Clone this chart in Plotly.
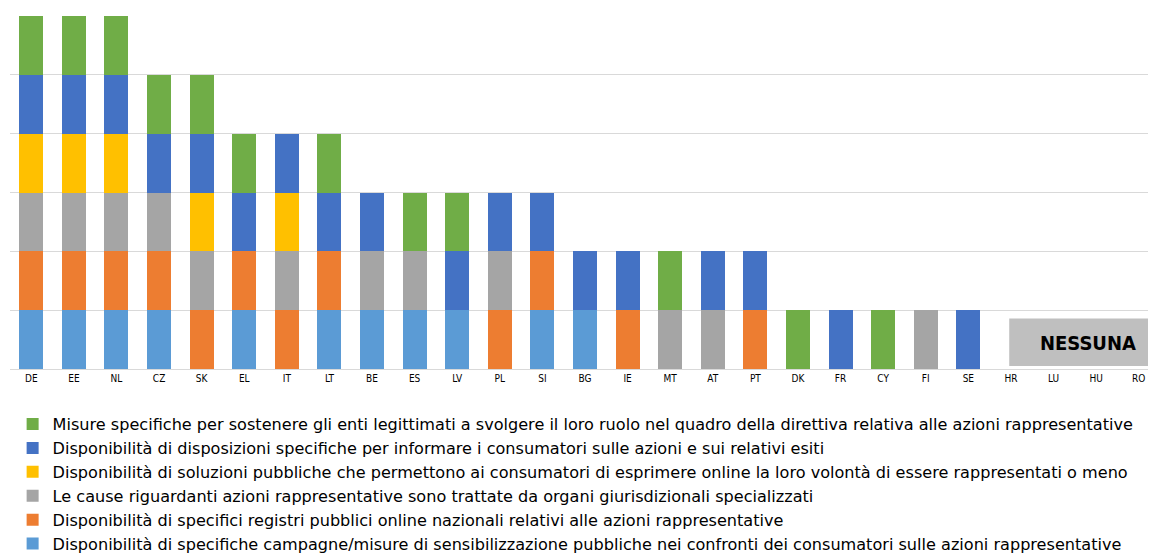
import plotly.graph_objects as go

paesi = ['DE', 'EE', 'NL', 'CZ', 'SK', 'EL', 'IT', 'LT', 'BE', 'ES', 'LV', 'PL', 'SI', 'BG',
         'IE', 'MT', 'AT', 'PT', 'DK', 'FR', 'CY', 'FI', 'SE', 'HR', 'LU', 'HU', 'RO']

# one 0/1 value per country, stacked bottom -> top
campagne = [1, 1, 1, 1, 0, 1, 0, 1, 1, 1, 1, 0, 1, 1, 0, 0, 0, 0, 0, 0, 0, 0, 0, 0, 0, 0, 0]
registri = [1, 1, 1, 1, 1, 1, 1, 1, 0, 0, 0, 1, 1, 0, 1, 0, 0, 1, 0, 0, 0, 0, 0, 0, 0, 0, 0]
organi = [1, 1, 1, 1, 1, 0, 1, 0, 1, 1, 0, 1, 0, 0, 0, 1, 1, 0, 0, 0, 0, 1, 0, 0, 0, 0, 0]
soluzioni = [1, 1, 1, 0, 1, 0, 1, 0, 0, 0, 0, 0, 0, 0, 0, 0, 0, 0, 0, 0, 0, 0, 0, 0, 0, 0, 0]
informare = [1, 1, 1, 1, 1, 1, 1, 1, 1, 0, 1, 1, 1, 1, 1, 0, 1, 1, 0, 1, 0, 0, 1, 0, 0, 0, 0]
misure = [1, 1, 1, 1, 1, 1, 0, 1, 0, 1, 1, 0, 0, 0, 0, 1, 0, 0, 1, 0, 1, 0, 0, 0, 0, 0, 0]

serie = [
    ('Disponibilità di specifiche campagne/misure di sensibilizzazione pubbliche nei confronti dei consumatori sulle azioni rappresentative', campagne, '#5B9BD5'),
    ('Disponibilità di specifici registri pubblici online nazionali relativi alle azioni rappresentative', registri, '#ED7D31'),
    ('Le cause riguardanti azioni rappresentative sono trattate da organi giurisdizionali specializzati', organi, '#A5A5A5'),
    ('Disponibilità di soluzioni pubbliche che permettono ai consumatori di esprimere online la loro volontà di essere rappresentati o meno', soluzioni, '#FFC000'),
    ('Disponibilità di disposizioni specifiche per informare i consumatori sulle azioni e sui relativi esiti', informare, '#4472C4'),
    ('Misure specifiche per sostenere gli enti legittimati a svolgere il loro ruolo nel quadro della direttiva relativa alle azioni rappresentative', misure, '#70AD47'),
]

fig = go.Figure()
for nome, valori, colore in serie:
    fig.add_trace(go.Bar(x=paesi, y=valori, name=nome, marker_color=colore,
                         marker_line_width=0))

font = 'DejaVu Sans Condensed, DejaVu Sans, sans-serif'

# "NESSUNA" box over the last four countries
fig.add_shape(type='rect', xref='x', yref='y', x0=22.96, x1=27, y0=0.05, y1=0.86,
              fillcolor='#BFBFBF', line_width=0, layer='above')
fig.add_annotation(x=24.81, y=0.44, xref='x', yref='y', text='<b>NESSUNA</b>',
                   showarrow=False, font=dict(size=20, color='black', family=font))

fig.update_layout(
    width=1156, height=560,
    barmode='stack', bargap=0.437,
    plot_bgcolor='white', paper_bgcolor='white',
    margin=dict(l=1.7, r=4.3, t=7.7, b=199.3, autoexpand=False),
    font=dict(family=font, color='black'),
    xaxis=dict(type='category', range=[-0.5, 26.5], showline=True, linecolor='#D9D9D9',
               linewidth=1, ticks='', tickangle=0,
               tickfont=dict(size=10, color='black', family=font)),
    yaxis=dict(range=[0, 6], dtick=1, showticklabels=False, gridcolor='#D9D9D9',
               gridwidth=1, zeroline=False),
    showlegend=True,
    legend=dict(traceorder='reversed', orientation='v', xref='container', yref='container',
                x=0.004, y=1 - 399 / 560, xanchor='left', yanchor='top',
                font=dict(size=16.1, color='black', family='DejaVu Sans, sans-serif'),
                tracegroupgap=0, itemwidth=30),
)

fig.write_html('out.html')
